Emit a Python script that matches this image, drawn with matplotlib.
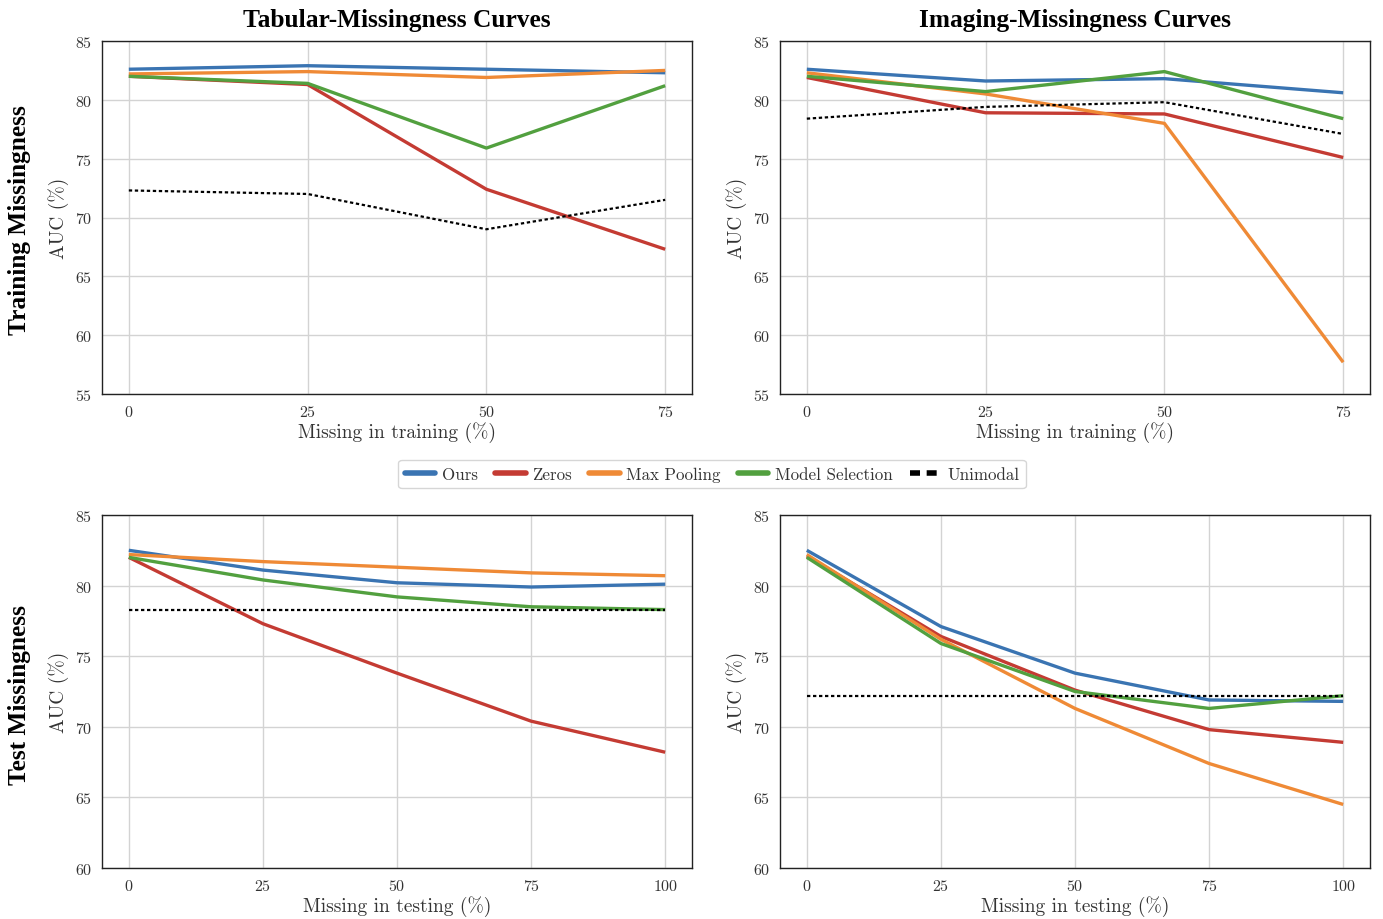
"""
Missingness curves: AUC vs fraction of missing modality data,
for training-time and test-time missingness.
"""

import matplotlib

matplotlib.use("Agg")

import matplotlib.pyplot as plt
from matplotlib.lines import Line2D

plt.rcParams["font.family"] = "serif"
plt.rcParams["font.serif"] = ["cmr10", "DejaVu Serif"]
plt.rcParams["axes.formatter.use_mathtext"] = True
plt.rcParams["mathtext.fontset"] = "cm"

# ---- data (AUC %) ----
train_missing = [0, 25, 50, 75]
test_missing = [0, 25, 50, 75, 100]

method_names = ["Ours", "Zeros", "Max Pooling", "Model Selection"]
method_colors = ["#3A74B2", "#C43B33", "#EF8A36", "#52A03F"]

tab_train_ours = [82.6, 82.9, 82.6, 82.3]
tab_train_zeros = [82.0, 81.3, 72.4, 67.3]
tab_train_maxpool = [82.2, 82.4, 81.9, 82.5]
tab_train_modelsel = [82.0, 81.4, 75.9, 81.2]
tab_train_unimodal = [72.3, 72.0, 69.0, 71.5]

img_train_ours = [82.6, 81.6, 81.8, 80.6]
img_train_zeros = [81.9, 78.9, 78.8, 75.1]
img_train_maxpool = [82.3, 80.5, 78.0, 57.7]
img_train_modelsel = [82.0, 80.7, 82.4, 78.4]
img_train_unimodal = [78.4, 79.4, 79.8, 77.1]

tab_test_ours = [82.5, 81.1, 80.2, 79.9, 80.1]
tab_test_zeros = [82.0, 77.3, 73.8, 70.4, 68.2]
tab_test_maxpool = [82.2, 81.7, 81.3, 80.9, 80.7]
tab_test_modelsel = [82.0, 80.4, 79.2, 78.5, 78.3]
tab_test_unimodal = [78.3, 78.3, 78.3, 78.3, 78.3]

img_test_ours = [82.5, 77.1, 73.8, 71.9, 71.8]
img_test_zeros = [82.1, 76.4, 72.6, 69.8, 68.9]
img_test_maxpool = [82.2, 76.2, 71.3, 67.4, 64.5]
img_test_modelsel = [82.0, 75.9, 72.5, 71.3, 72.2]
img_test_unimodal = [72.2, 72.2, 72.2, 72.2, 72.2]

W, H = 1383, 920
fig = plt.figure(figsize=(W / 100, H / 100), dpi=100)


def make_axes(left, top, right, bottom):
    return fig.add_axes([left / W, 1 - bottom / H, (right - left) / W, (bottom - top) / H])


def draw_panel(ax, x, series, unimodal, ylim, yticks, xlabel):
    for values, color in zip(series, method_colors):
        ax.plot(x, values, color=color, linewidth=2.4, solid_capstyle="butt")
    ax.plot(x, unimodal, color="black", linewidth=1.6, linestyle=(0, (1.5, 1.2)))
    ax.set_ylim(*ylim)
    ax.set_yticks(yticks)
    ax.set_xticks(x)
    ax.set_xlabel(xlabel, fontsize=14, labelpad=2, color="#333333")
    ax.set_ylabel("AUC (%)", fontsize=14, labelpad=4, color="#333333")
    ax.grid(True, color="#d3d3d3", linewidth=1.0)
    ax.set_axisbelow(True)
    ax.tick_params(length=0, labelsize=11.5, pad=7, colors="#333333")
    for spine in ax.spines.values():
        spine.set_color("#222222")
        spine.set_linewidth(1.0)


ax_tl = make_axes(102, 42, 692, 395)
ax_tr = make_axes(780, 42, 1370, 395)
ax_bl = make_axes(102, 516, 692, 869)
ax_br = make_axes(780, 516, 1370, 869)

draw_panel(
    ax_tl, train_missing,
    [tab_train_ours, tab_train_zeros, tab_train_maxpool, tab_train_modelsel],
    tab_train_unimodal, (55, 85), range(55, 86, 5), "Missing in training (%)",
)
draw_panel(
    ax_tr, train_missing,
    [img_train_ours, img_train_zeros, img_train_maxpool, img_train_modelsel],
    img_train_unimodal, (55, 85), range(55, 86, 5), "Missing in training (%)",
)
draw_panel(
    ax_bl, test_missing,
    [tab_test_ours, tab_test_zeros, tab_test_maxpool, tab_test_modelsel],
    tab_test_unimodal, (60, 85), range(60, 86, 5), "Missing in testing (%)",
)
draw_panel(
    ax_br, test_missing,
    [img_test_ours, img_test_zeros, img_test_maxpool, img_test_modelsel],
    img_test_unimodal, (60, 85), range(60, 86, 5), "Missing in testing (%)",
)

title_font = dict(family="Liberation Serif", fontweight="bold", fontsize=18.3)
ax_tl.set_title("Tabular-Missingness Curves", pad=11, **title_font)
ax_tr.set_title("Imaging-Missingness Curves", pad=11, **title_font)
fig.text(20 / W, 1 - 220 / H, "Training Missingness", rotation=90,
         ha="center", va="center", **title_font)
fig.text(20 / W, 1 - 695 / H, "Test Missingness", rotation=90,
         ha="center", va="center", **title_font)

handles = [Line2D([], [], color=c, linewidth=4, solid_capstyle="round") for c in method_colors]
handles.append(Line2D([], [], color="black", linewidth=4, linestyle=(0, (1.8, 1.2))))
fig.legend(
    handles, method_names + ["Unimodal"],
    loc="center", bbox_to_anchor=(712 / W, 1 - 475 / H),
    ncol=5, fontsize=12.2, frameon=True, handlelength=1.8,
    columnspacing=1.0, handletextpad=0.4, borderpad=0.4,
    edgecolor="#cccccc", fancybox=True, labelcolor="#333333",
)

fig.savefig("out.png", dpi=100)
